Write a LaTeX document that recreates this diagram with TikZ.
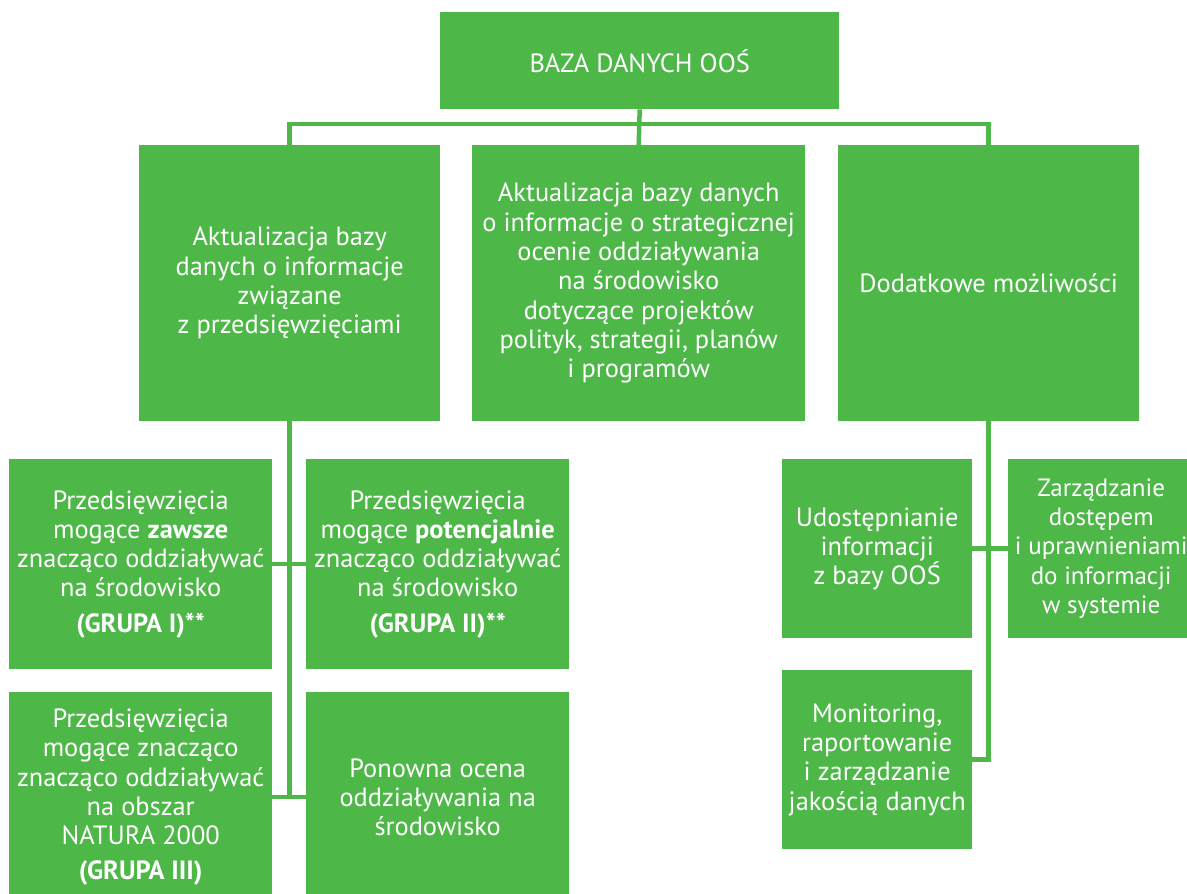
\documentclass[tikz,border=0pt]{standalone}
\usepackage{fontspec}
\setmainfont{PT Sans}
\usepackage{tikz}
\definecolor{oosgreen}{RGB}{77,184,72}
\tikzset{
    box/.style={fill=oosgreen,text=white,align=center,anchor=north west,
        inner sep=0pt,font=\fontsize{26.4}{29.3}\selectfont},
    link/.style={draw=oosgreen,line width=4.5pt}
}
\begin{document}
\begin{tikzpicture}[x=1pt,y=-1pt]
  \useasboundingbox (0,0) rectangle (1187,894);
  % Draw top level
  \node[box,minimum width=399pt,minimum height=97pt] (baza) at (440,12)
        {BAZA DANYCH OO\'S};
  % Draw second level
  \node[box,minimum width=301pt,minimum height=276pt] (upd) at (139,145)
        {Aktualizacja bazy\\danych o informacje\\zwi\k{a}zane\\z przedsi\k{e}wzi\k{e}ciami};
  \node[box,minimum width=333pt,minimum height=276pt] (soo) at (472,145)
        {Aktualizacja bazy danych\\o informacje o strategicznej\\ocenie oddzia\l{}ywania\\na \'srodowisko\\dotycz\k{a}ce projekt\'ow\\polityk, strategii, plan\'ow\\i program\'ow};
  \node[box,minimum width=301pt,minimum height=276pt] (dod) at (838,145)
        {Dodatkowe mo\.zliwo\'sci};
  % Draw groups
  \node[box,minimum width=263pt,minimum height=210pt] (g1) at (9,459)
        {Przedsi\k{e}wzi\k{e}cia\\mog\k{a}ce \textbf{zawsze}\\znacz\k{a}co oddzia\l{}ywa\'c\\na \'srodowisko\\[6pt]\textbf{(GRUPA I)**}};
  \node[box,minimum width=263pt,minimum height=210pt] (g2) at (306,459)
        {Przedsi\k{e}wzi\k{e}cia\\mog\k{a}ce \textbf{potencjalnie}\\znacz\k{a}co oddzia\l{}ywa\'c\\na \'srodowisko\\[6pt]\textbf{(GRUPA II)**}};
  \node[box,minimum width=263pt,minimum height=210pt] (g3) at (9,692)
        {Przedsi\k{e}wzi\k{e}cia\\mog\k{a}ce znacz\k{a}co\\znacz\k{a}co oddzia\l{}ywa\'c\\na obszar\\NATURA 2000\\[6pt]\textbf{(GRUPA III)}};
  \node[box,minimum width=263pt,minimum height=210pt] (pon) at (306,692)
        {Ponowna ocena\\oddzia\l{}ywania na\\\'srodowisko};
  % Draw extra options
  \node[box,minimum width=190pt,minimum height=179pt] (udo) at (782,459)
        {Udost\k{e}pnianie\\informacji\\z bazy OO\'S};
  \node[box,minimum width=186pt,minimum height=179pt,
        font=\fontsize{25}{29.3}\selectfont] (zarz) at (1008,459)
        {Zarz\k{a}dzanie\\dost\k{e}pem\\i uprawnieniami\\do informacji\\w systemie};
  \node[box,minimum width=190pt,minimum height=179pt] (mon) at (782,670)
        {Monitoring,\\raportowanie\\i zarz\k{a}dzanie\\jako\'sci\k{a} danych};
  % Draw links
  \draw[link] (baza.south) -- (soo.north);
  \draw[link] (upd.north) -- ++(0,-21) -| (dod.north);
  \draw[link] (upd.south) |- (g3.east);
  \draw[link] (g1.east) -- (g2.west);
  \draw[link] (g3.east) -- (pon.west);
  \draw[link] (dod.south) |- (mon.east);
  \draw[link] (udo.east) -- (zarz.west);
\end{tikzpicture}
\end{document}
